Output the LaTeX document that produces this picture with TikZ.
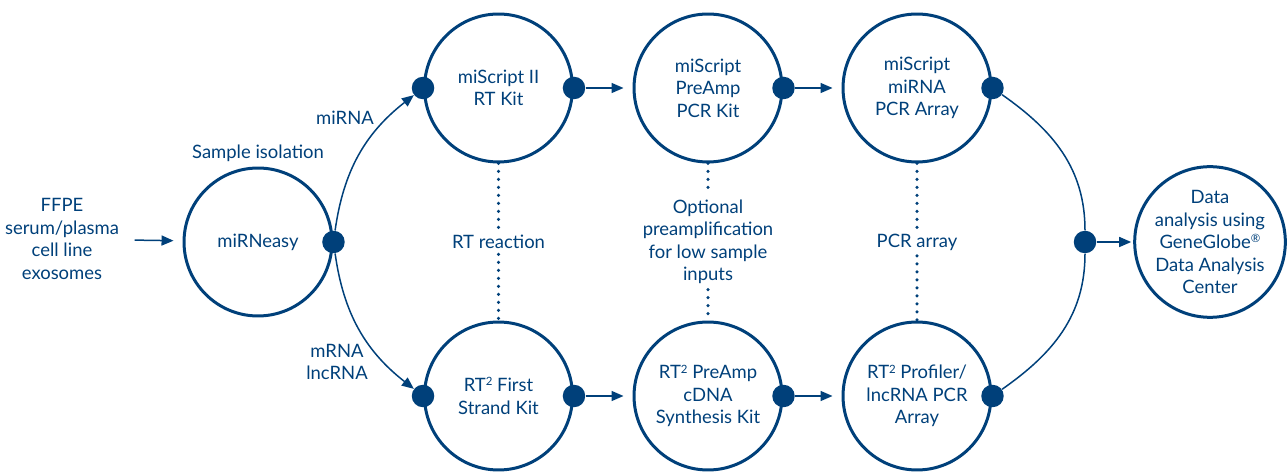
\documentclass[tikz,border=0pt]{standalone}
\usepackage{fontspec}
\setmainfont{Lato}
\usepackage{xcolor}
\usepackage{tikz}
\usetikzlibrary{positioning,arrows.meta}
\definecolor{qblue}{RGB}{0,64,122}
\newcommand{\supsm}[1]{\raisebox{0.62ex}{\fontsize{6.5}{6.5}\selectfont #1}}

\begin{document}
\begin{tikzpicture}[
                x=0.02cm, y=0.02cm,
                kit/.style={circle, draw=qblue, line width=0.06cm, minimum size=2.96cm, inner sep=0pt, align=center, text=qblue, font=\fontsize{10.5}{12.8}\selectfont},
                dot/.style={circle, fill=qblue, inner sep=0pt, minimum size=0.45cm},
                link/.style={draw=qblue, line width=0.03cm},
                edge/.style={link, -{Triangle[length=0.24cm, width=0.2cm]}},
                dots/.style={draw=qblue, line width=0.07cm, line cap=round, dash pattern=on 0pt off 0.16cm},
                label_text/.style={text=qblue, align=center, inner sep=3pt, font=\fontsize{10.5}{12.8}\selectfont}
            ]
                \useasboundingbox (0,0) rectangle (1287,473);

                % --- SAMPLE ISOLATION ---
                \node[label_text] (input) at (62,234) {FFPE\\serum/plasma\\cell line\\exosomes};
                \node[kit] (easy) at (258,231) {miRNeasy};
                \node[label_text] (isol) at (258,320) {Sample isolation};
                \draw[edge, shorten <=0.2cm, shorten >=0.18cm] (input) -- (easy);

                % --- miRNA ROW ---
                \node[kit] (rtkit) at (498.5,385) {miScript II\\RT Kit};
                \node[kit] (preamp) at (708,385) {miScript\\PreAmp\\PCR Kit};
                \node[kit] (array) at (917,385) {miScript\\miRNA\\PCR Array};

                % --- mRNA ROW ---
                \node[kit] (strand) at (498.5,77) {RT\supsm{2} First\\Strand Kit};
                \node[kit] (cdna) at (708,77) {RT\supsm{2} PreAmp\\cDNA\\Synthesis Kit};
                \node[kit] (profiler) at (917,77) {RT\supsm{2} Profiler/\\lncRNA PCR\\Array};

                % --- DATA ---
                \node[kit] (data) at (1210,231) {Data\\analysis using\\GeneGlobe\supsm{\textregistered}\\Data Analysis\\Center};

                % --- labels ---
                \node[label_text] (mirna) at (345,355) {miRNA};
                \node[label_text] (mrna) at (337,111) {mRNA\\lncRNA};
                \node[label_text] (rtlab) at (498.5,231) {RT reaction};
                \node[label_text] (prelab) at (708,231) {Optional\\preamplification\\for low sample\\inputs};
                \node[label_text] (pcrlab) at (917,231) {PCR array};

                % --- dotted links ---
                \draw[dots] (rtkit) -- (rtlab); \draw[dots] (rtlab) -- (strand);
                \draw[dots] (preamp) -- (prelab); \draw[dots] (prelab) -- (cdna);
                \draw[dots] (array) -- (pcrlab); \draw[dots] (pcrlab) -- (profiler);

                % --- dots ---
                \node[dot] (easyOut) at (easy.east) {};
                \node[dot] (rtkitIn) at (rtkit.west) {};
                \node[dot] (rtkitOut) at (rtkit.east) {};
                \node[dot] (preampOut) at (preamp.east) {};
                \node[dot] (arrayOut) at (array.east) {};
                \node[dot] (strandIn) at (strand.west) {};
                \node[dot] (strandOut) at (strand.east) {};
                \node[dot] (cdnaOut) at (cdna.east) {};
                \node[dot] (profilerOut) at (profiler.east) {};
                \node[dot] (merge) at (1085,231) {};

                % --- connectors ---
                \draw[edge] (easyOut) to[out=82, in=218] (rtkitIn);
                \draw[edge] (easyOut) to[out=-82, in=142] (strandIn);
                \draw[edge, shorten >=0.18cm] (rtkitOut) -- (preamp);
                \draw[edge, shorten >=0.18cm] (preampOut) -- (array);
                \draw[edge, shorten >=0.18cm] (strandOut) -- (cdna);
                \draw[edge, shorten >=0.18cm] (cdnaOut) -- (profiler);
                \draw[link] (arrayOut) to[out=-35, in=90] (merge);
                \draw[link] (profilerOut) to[out=35, in=-90] (merge);
                \draw[edge, shorten >=0.04cm] (merge) -- (data);

            \end{tikzpicture}
\end{document}
